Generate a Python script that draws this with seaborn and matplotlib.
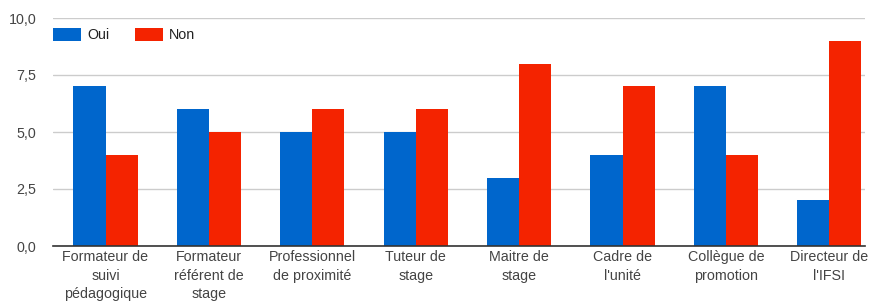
import pandas as pd
import matplotlib.pyplot as plt
import seaborn as sns
from matplotlib.ticker import FuncFormatter

categories = [
    "Formateur de\nsuivi\npédagogique",
    "Formateur\nréférent de\nstage",
    "Professionnel\nde proximité",
    "Tuteur de\nstage",
    "Maitre de\nstage",
    "Cadre de\nl'unité",
    "Collègue de\npromotion",
    "Directeur de\nl'IFSI",
]
oui = [7, 6, 5, 5, 3, 4, 7, 2]
non = [4, 5, 6, 6, 8, 7, 4, 9]
series = ["Oui", "Non"]
colors = ["#0066CC", "#F42300"]

df = pd.DataFrame({
    "categorie": categories * 2,
    "reponse": ["Oui"] * len(oui) + ["Non"] * len(non),
    "valeur": oui + non,
})

sns.set_theme(style="white")
plt.rcParams["font.family"] = ["Liberation Sans", "DejaVu Sans"]
fs = 10.3

fig = plt.figure(figsize=(8.69, 3.03), dpi=100)
ax = fig.add_axes([53 / 869, 1 - 246 / 303, (865 - 53) / 869, (246 - 18) / 303])

sns.barplot(data=df, x="categorie", y="valeur", hue="reponse", hue_order=series,
            palette=colors, width=0.62, saturation=1, ax=ax, gap=0,
            edgecolor="none", linewidth=0)

ax.set_ylim(0, 10)
ax.set_xlim(-0.508, 7.345)
ax.set_yticks([0, 2.5, 5, 7.5, 10])
ax.yaxis.set_major_formatter(FuncFormatter(lambda v, p: f"{v:.1f}".replace(".", ",")))
ax.grid(axis="y", color="#cccccc", linewidth=1)
ax.set_axisbelow(True)
for s in ["top", "right", "left"]:
    ax.spines[s].set_visible(False)
ax.spines["bottom"].set_color("#333333")
ax.spines["bottom"].set_linewidth(1.2)
ax.set_xlabel("")
ax.set_ylabel("")
ax.tick_params(axis="both", length=0, labelsize=fs, colors="#444444")
ax.tick_params(axis="y", pad=12)
ax.tick_params(axis="x", pad=3)
for lab in ax.get_xticklabels():
    lab.set_linespacing(1.4)

ax.legend(loc="upper left", bbox_to_anchor=(0.0, 1 - 10 / 228), ncol=2, frameon=False,
          fontsize=fs, handlelength=1.96, handleheight=1.0, columnspacing=1.75,
          handletextpad=0.45, borderpad=0, borderaxespad=0, labelcolor="#222222")

fig.savefig("out.png", dpi=100)
